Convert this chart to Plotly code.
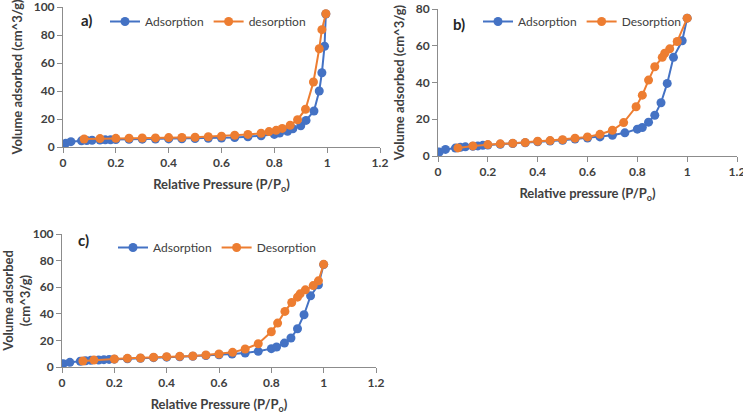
import plotly.graph_objects as go

# ---- panel a ----
a_ads_p = [0.01, 0.03, 0.07, 0.09, 0.11, 0.14, 0.16, 0.18, 0.2, 0.25, 0.3, 0.35, 0.4, 0.45,
           0.5, 0.55, 0.6, 0.65, 0.7, 0.75, 0.8, 0.82, 0.85, 0.87, 0.9, 0.92, 0.95, 0.97,
           0.98, 0.99, 0.995]
a_ads_v = [2.6, 3.8, 4.4, 4.6, 4.8, 5.0, 5.1, 5.2, 5.3, 5.5, 5.6, 5.7, 5.8, 5.9,
           6.0, 6.2, 6.4, 6.8, 7.3, 8.0, 9.0, 10.0, 11.2, 13.0, 15.2, 19.0, 25.7, 40.0,
           53.0, 72.0, 95.0]
a_des_p = [0.995, 0.98, 0.97, 0.948, 0.918, 0.888, 0.86, 0.83, 0.807, 0.78, 0.75, 0.7,
           0.65, 0.6, 0.55, 0.5, 0.45, 0.4, 0.35, 0.3, 0.25, 0.2, 0.14, 0.08]
a_des_v = [95.2, 83.8, 70.2, 46.4, 27.0, 19.5, 15.5, 13.3, 11.9, 11.0, 9.8, 9.0,
           8.4, 7.7, 7.3, 7.0, 6.8, 6.7, 6.5, 6.4, 6.3, 6.2, 6.0, 5.7]

# ---- panel b ----
b_ads_p = [0.005, 0.03, 0.07, 0.09, 0.11, 0.14, 0.16, 0.18, 0.2, 0.25, 0.3, 0.35, 0.4,
           0.45, 0.5, 0.55, 0.6, 0.65, 0.7, 0.75, 0.8, 0.82, 0.845, 0.87, 0.895, 0.92,
           0.945, 0.98, 1.0]
b_ads_v = [2.2, 3.6, 4.3, 4.7, 5.0, 5.3, 5.5, 5.8, 6.0, 6.4, 6.8, 7.2, 7.7,
           8.1, 8.6, 9.2, 9.8, 10.4, 11.3, 12.6, 14.6, 15.5, 18.4, 22.2, 29.0, 39.5,
           53.7, 62.7, 75.0]
b_des_p = [1.0, 0.96, 0.93, 0.91, 0.9, 0.87, 0.845, 0.82, 0.795, 0.745, 0.7, 0.65, 0.6,
           0.55, 0.5, 0.45, 0.4, 0.35, 0.3, 0.25, 0.2, 0.14, 0.08]
b_des_v = [75.0, 62.3, 58.3, 55.9, 53.7, 48.6, 41.3, 33.1, 26.8, 18.2, 14.0, 11.8, 10.4,
           9.7, 8.9, 8.4, 8.0, 7.3, 6.9, 6.6, 6.2, 5.5, 4.4]

# ---- panel c ----
c_ads_p = [0.005, 0.03, 0.07, 0.09, 0.11, 0.14, 0.16, 0.18, 0.2, 0.25, 0.3, 0.35, 0.4,
           0.45, 0.5, 0.55, 0.6, 0.65, 0.7, 0.75, 0.8, 0.82, 0.85, 0.875, 0.9, 0.925,
           0.95, 0.98, 1.0]
c_ads_v = [2.5, 3.5, 4.3, 4.7, 5.0, 5.3, 5.5, 5.7, 5.9, 6.2, 6.6, 7.0, 7.4,
           7.7, 8.1, 8.6, 9.2, 9.8, 10.5, 11.8, 13.8, 15.0, 18.0, 21.8, 28.8, 39.3,
           53.5, 61.8, 77.0]
c_des_p = [1.0, 0.98, 0.96, 0.93, 0.91, 0.9, 0.878, 0.852, 0.824, 0.8, 0.75, 0.7, 0.652,
           0.6, 0.55, 0.5, 0.45, 0.4, 0.35, 0.3, 0.25, 0.2, 0.122, 0.08]
c_des_v = [77.2, 64.8, 61.2, 58.0, 55.0, 52.5, 48.5, 41.8, 33.0, 26.5, 17.5, 13.5, 11.0,
           9.8, 9.0, 8.3, 8.0, 7.8, 7.3, 6.8, 6.5, 6.0, 5.3, 4.5]

BLUE = "#4472C4"
ORANGE = "#ED7D31"
FONT = "Lato, Carlito, 'Liberation Sans', sans-serif"
TXT = "#404040"

W, H = 743, 414

def px_x(px):
    return px / W

def px_y(px):
    return 1 - px / H

fig = go.Figure()

panels = [
    ("", a_ads_p, a_ads_v, a_des_p, a_des_v, "Adsorption", "desorption", "legend"),
    ("2", b_ads_p, b_ads_v, b_des_p, b_des_v, "Adsorption", "Desorption", "legend2"),
    ("3", c_ads_p, c_ads_v, c_des_p, c_des_v, "Adsorption", "Desorption", "legend3"),
]

for sfx, ap, av, dp, dv, an, dn, lg in panels:
    fig.add_trace(go.Scatter(
        x=ap, y=av, mode="lines+markers", name=an,
        line=dict(color=BLUE, width=2),
        marker=dict(color=BLUE, size=9),
        xaxis="x" + sfx, yaxis="y" + sfx, legend=lg))
    fig.add_trace(go.Scatter(
        x=dp, y=dv, mode="lines+markers", name=dn,
        line=dict(color=ORANGE, width=2),
        marker=dict(color=ORANGE, size=9),
        xaxis="x" + sfx, yaxis="y" + sfx, legend=lg))

def xax(dom, anchor, title):
    return dict(domain=dom, anchor=anchor, range=[0, 1.2], dtick=0.2,
                showline=True, linecolor="#8c8c8c", linewidth=1,
                ticks="outside", ticklen=5, tickcolor="#8c8c8c",
                showgrid=False, zeroline=False, automargin=False,
                ticklabeloverflow="allow",
                tickfont=dict(family=FONT, size=12, color=TXT, weight="bold"),
                title=dict(text=title, standoff=10,
                           font=dict(family=FONT, size=13, color=TXT, weight="bold")))

def yax(dom, anchor, rng, dt, title):
    return dict(domain=dom, anchor=anchor, range=rng, dtick=dt,
                showline=True, linecolor="#8c8c8c", linewidth=1,
                ticks="outside", ticklen=5, tickcolor="#8c8c8c",
                showgrid=False, zeroline=False, automargin=False,
                ticklabeloverflow="allow",
                tickfont=dict(family=FONT, size=12, color=TXT, weight="bold"),
                title=dict(text=title, standoff=8,
                           font=dict(family=FONT, size=13, color=TXT, weight="bold")))

xa = [px_x(63), px_x(380)]
ya = [px_y(147), px_y(7)]
xb = [px_x(438), px_x(737)]
yb = [px_y(156), px_y(9)]
xc = [px_x(62), px_x(376)]
yc = [px_y(367), px_y(234)]

leg_common = dict(orientation="h", bgcolor="rgba(0,0,0,0)", xanchor="left", yanchor="top",
                  font=dict(family=FONT, size=12, color=TXT), itemwidth=30,
                  tracegroupgap=0)

fig.update_layout(
    width=W, height=H, autosize=False,
    margin=dict(l=0, r=0, t=0, b=0),
    paper_bgcolor="white", plot_bgcolor="white",
    xaxis=xax(xa, "y", "Relative Pressure (P/P<sub>o</sub>)"),
    yaxis=yax(ya, "x", [0, 100], 20, "Volume adsorbed (cm^3/g)"),
    xaxis2=xax(xb, "y2", "Relative pressure (P/P<sub>o</sub>)"),
    yaxis2=yax(yb, "x2", [0, 80], 20, "Volume adsorbed (cm^3/g)"),
    xaxis3=xax(xc, "y3", "Relative Pressure (P/P<sub>o</sub>)"),
    yaxis3=yax(yc, "x3", [0, 100], 20, "Volume adsorbed<br>(cm^3/g)"),
    legend=dict(x=px_x(105), y=px_y(7), **leg_common),
    legend2=dict(x=px_x(478), y=px_y(7), **leg_common),
    legend3=dict(x=px_x(113), y=px_y(233), **leg_common),
    annotations=[
        dict(text="a)", x=px_x(79), y=px_y(20), xref="paper", yref="paper",
             xanchor="left", yanchor="middle", showarrow=False,
             font=dict(family=FONT, size=15, color="#262626", weight="bold")),
        dict(text="b)", x=px_x(451), y=px_y(24), xref="paper", yref="paper",
             xanchor="left", yanchor="middle", showarrow=False,
             font=dict(family=FONT, size=15, color="#262626", weight="bold")),
        dict(text="c)", x=px_x(76), y=px_y(240), xref="paper", yref="paper",
             xanchor="left", yanchor="middle", showarrow=False,
             font=dict(family=FONT, size=15, color="#262626", weight="bold")),
    ],
)

fig.write_html("out.html", config={"displayModeBar": False},
               post_script="document.body.style.margin='0';document.body.style.overflow='hidden';")
